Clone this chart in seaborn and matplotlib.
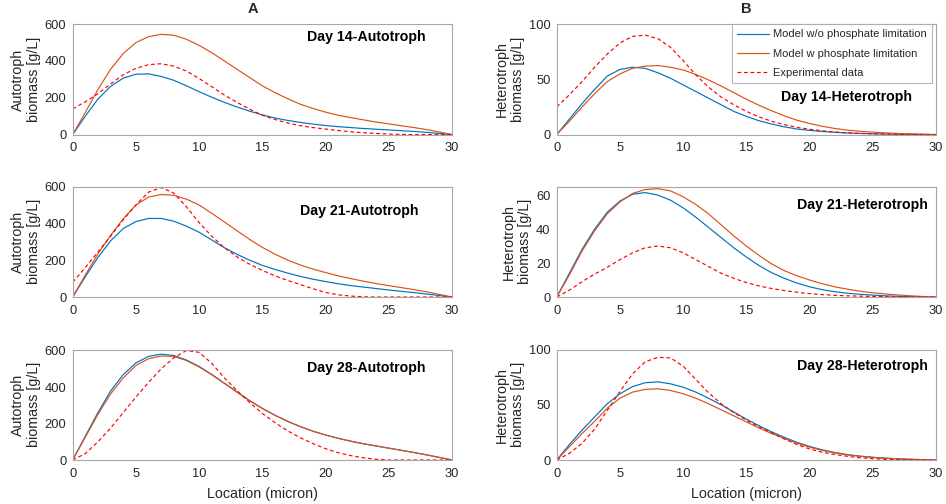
import numpy as np
import pandas as pd
import seaborn as sns
import matplotlib
matplotlib.use("Agg")
import matplotlib.pyplot as plt

# ---------------- data ----------------
location = list(range(0, 31))

# Day 14 - Autotroph
a14_wo = [0, 100, 193, 262, 307, 328, 330, 316, 295, 265, 233, 203, 175, 150, 127, 107, 90, 77, 66, 57, 49, 43, 38, 33, 29, 25, 21, 17, 12, 6, 0]
a14_w = [0, 120, 245, 355, 440, 500, 532, 545, 540, 518, 485, 445, 400, 355, 310, 265, 228, 195, 165, 142, 122, 105, 92, 80, 68, 58, 48, 38, 27, 14, 0]
a14_exp = [140, 178, 222, 275, 325, 360, 380, 385, 372, 345, 305, 260, 215, 175, 138, 105, 82, 63, 48, 38, 30, 22, 15, 10, 6, 3, 1, 0, 0, 0, 0]

# Day 14 - Heterotroph
h14_wo = [0, 14, 28, 41, 53, 59, 61, 60, 56, 51, 45, 39, 33, 27, 21, 16.5, 12.5, 9.5, 7, 5, 3.8, 2.8, 2, 1.4, 1, 0.7, 0.5, 0.3, 0.2, 0.1, 0]
h14_w = [0, 12, 25, 37, 48, 55, 60, 62, 62.5, 61, 58.5, 54.5, 49.5, 44, 38, 32, 26.5, 21.5, 17, 13, 10, 7.5, 5.5, 4, 3, 2.2, 1.5, 1, 0.6, 0.3, 0]
h14_exp = [25, 36, 48, 61, 73, 83, 89, 90, 87, 79, 67, 54, 43, 34, 27, 21, 16, 12, 9, 6.5, 4.8, 3.4, 2.4, 1.6, 1.1, 0.7, 0.4, 0.2, 0.1, 0, 0]

# Day 21 - Autotroph
a21_wo = [0, 110, 215, 305, 372, 410, 427, 427, 412, 385, 352, 310, 268, 232, 200, 172, 150, 130, 112, 97, 84, 72, 62, 54, 46, 38, 31, 24, 16, 8, 0]
a21_w = [0, 120, 235, 335, 425, 500, 543, 557, 553, 532, 500, 455, 408, 360, 313, 270, 233, 201, 174, 152, 133, 115, 100, 86, 73, 62, 51, 40, 28, 14, 0]
a21_exp = [80, 160, 245, 330, 420, 500, 570, 595, 565, 490, 405, 330, 268, 218, 178, 145, 115, 90, 68, 45, 25, 12, 5, 1, 0, 0, 0, 0, 0, 0, 0]

# Day 21 - Heterotroph
h21_wo = [0, 14, 28, 40, 50, 56.5, 60.5, 61.5, 60, 57, 52.5, 47, 41, 35, 29, 23.5, 18.5, 14.3, 11, 8.2, 6, 4.3, 3.1, 2.2, 1.6, 1.1, 0.7, 0.4, 0.2, 0.1, 0]
h21_w = [0, 13, 27, 39, 49, 56, 61, 63.3, 63.8, 62.5, 59, 54.5, 49, 42.5, 36, 30, 24.5, 19.5, 15.5, 12.5, 10, 7.8, 6, 4.6, 3.4, 2.5, 1.8, 1.2, 0.7, 0.3, 0]
h21_exp = [0, 4, 9, 13.5, 17.5, 22, 26, 29, 30, 29, 26, 22, 18, 14, 11, 8.5, 6.5, 5, 3.8, 2.8, 2, 1.4, 1, 0.7, 0.5, 0.3, 0.2, 0.1, 0, 0, 0]

# Day 28 - Autotroph
a28_wo = [0, 130, 260, 378, 468, 532, 568, 580, 573, 548, 513, 469, 421, 373, 325, 283, 245, 212, 183, 158, 137, 119, 103, 89, 77, 65, 53, 41, 28, 14, 0]
a28_w = [0, 125, 250, 362, 450, 518, 555, 570, 568, 545, 510, 467, 420, 372, 325, 283, 245, 212, 183, 158, 137, 119, 103, 89, 77, 65, 53, 41, 28, 14, 0]
a28_exp = [0, 35, 100, 175, 260, 345, 425, 500, 560, 600, 590, 530, 450, 380, 315, 255, 205, 160, 122, 90, 62, 40, 24, 12, 4, 0, 0, 0, 0, 0, 0]

# Day 28 - Heterotroph
h28_wo = [0, 14, 27, 39, 51, 60, 66.5, 70, 70.8, 69, 66, 61.5, 56, 50, 43.5, 37, 31, 25.5, 20.5, 16, 12.3, 9.2, 6.8, 4.9, 3.5, 2.5, 1.7, 1.1, 0.6, 0.3, 0]
h28_w = [0, 12, 24, 35, 47, 56, 61.5, 64, 64.5, 63, 60, 56, 51, 45.5, 40, 34.5, 29, 24, 19.5, 15.3, 11.6, 8.7, 6.4, 4.6, 3.3, 2.3, 1.5, 1, 0.6, 0.3, 0]
h28_exp = [0, 6, 15, 28, 45, 62, 78, 89, 93, 92.5, 85, 73, 61, 51, 43, 36, 30, 24.5, 19, 14, 10, 7, 5, 3.3, 2, 1.2, 0.6, 0.3, 0.1, 0, 0]

series_labels = ["Model w/o phosphate limitation", "Model w phosphate limitation", "Experimental data"]
panel_titles = ["Day 14-Autotroph", "Day 14-Heterotroph",
                "Day 21-Autotroph", "Day 21-Heterotroph",
                "Day 28-Autotroph", "Day 28-Heterotroph"]
ylabels = ["Autotroph\nbiomass [g/L]", "Heterotroph\nbiomass [g/L]"]
xlabel = "Location (micron)"
x_ticks = [0, 5, 10, 15, 20, 25, 30]

panels = [
    (a14_wo, a14_w, a14_exp), (h14_wo, h14_w, h14_exp),
    (a21_wo, a21_w, a21_exp), (h21_wo, h21_w, h21_exp),
    (a28_wo, a28_w, a28_exp), (h28_wo, h28_w, h28_exp),
]

# ---------------- style ----------------
sns.set_style("white")
plt.rcParams["font.family"] = ["Liberation Sans", "DejaVu Sans"]

c_blue = "#0072BD"
c_orange = "#D95319"
c_red = "#FF0000"
spine_c = "#A6A6A6"
text_c = "#262626"

fig = plt.figure(figsize=(9.46, 5.04), dpi=100)

lefts = [0.0768, 0.5885]
width = 0.401
bottoms = [0.733, 0.4107, 0.0873]
height = 0.219

ylims = [(0, 600), (0, 100), (0, 600), (0, 65), (0, 605), (0, 100)]
yticks = [[0, 200, 400, 600], [0, 50, 100], [0, 200, 400, 600], [0, 20, 40, 60],
          [0, 200, 400, 600], [0, 50, 100]]
text_pos = [(0.617, 0.88), (0.59, 0.338), (0.60, 0.777), (0.633, 0.838), (0.617, 0.836), (0.634, 0.855)]

for i, (wo, w, ex) in enumerate(panels):
    r, c = divmod(i, 2)
    ax = fig.add_axes([lefts[c], bottoms[r], width, height])
    sns.lineplot(x=location, y=wo, ax=ax, color=c_blue, lw=0.85, label=series_labels[0])
    sns.lineplot(x=location, y=w, ax=ax, color=c_orange, lw=0.85, label=series_labels[1])
    sns.lineplot(x=location, y=ex, ax=ax, color=c_red, lw=0.85, linestyle=(0, (3.2, 2.3)),
                 label=series_labels[2])
    ax.set_xlim(0, 30)
    ax.set_ylim(*ylims[i])
    ax.set_xticks(x_ticks)
    ax.set_yticks(yticks[i])
    ax.tick_params(direction="in", length=3, width=0.8, colors=spine_c,
                   labelcolor=text_c, labelsize=9.3, top=False, right=False)
    ax.tick_params(axis="x", pad=5.5)
    ax.tick_params(axis="y", pad=4.5)
    for sp in ax.spines.values():
        sp.set_color(spine_c)
        sp.set_linewidth(0.8)
    ax.set_ylabel(ylabels[c], fontsize=10.3, color=text_c, linespacing=1.2, labelpad=2.5)
    if r == 2:
        ax.set_xlabel(xlabel, fontsize=10.3, color=text_c, labelpad=5)
    else:
        ax.set_xlabel("")
    ax.text(text_pos[i][0], text_pos[i][1], panel_titles[i], transform=ax.transAxes,
            ha="left", va="center", fontsize=10.2, fontweight="bold", color="black")
    if i == 1:
        leg = ax.legend(loc="upper right", bbox_to_anchor=(0.9887, 0.998), fontsize=8,
                        frameon=True, fancybox=False, borderaxespad=0.0,
                        handlelength=2.8, labelspacing=0.85,
                        borderpad=0.45, handletextpad=0.4)
        leg.get_frame().set_edgecolor(spine_c)
        leg.get_frame().set_linewidth(0.8)
        for t in leg.get_texts():
            t.set_color(text_c)
    else:
        ax.get_legend().remove()

fig.text(253 / 946, 1 - 9 / 504, "A", ha="center", va="center", fontsize=10.5, fontweight="bold")
fig.text(746 / 946, 1 - 9 / 504, "B", ha="center", va="center", fontsize=10.5, fontweight="bold")

fig.savefig("out.png", dpi=100)
